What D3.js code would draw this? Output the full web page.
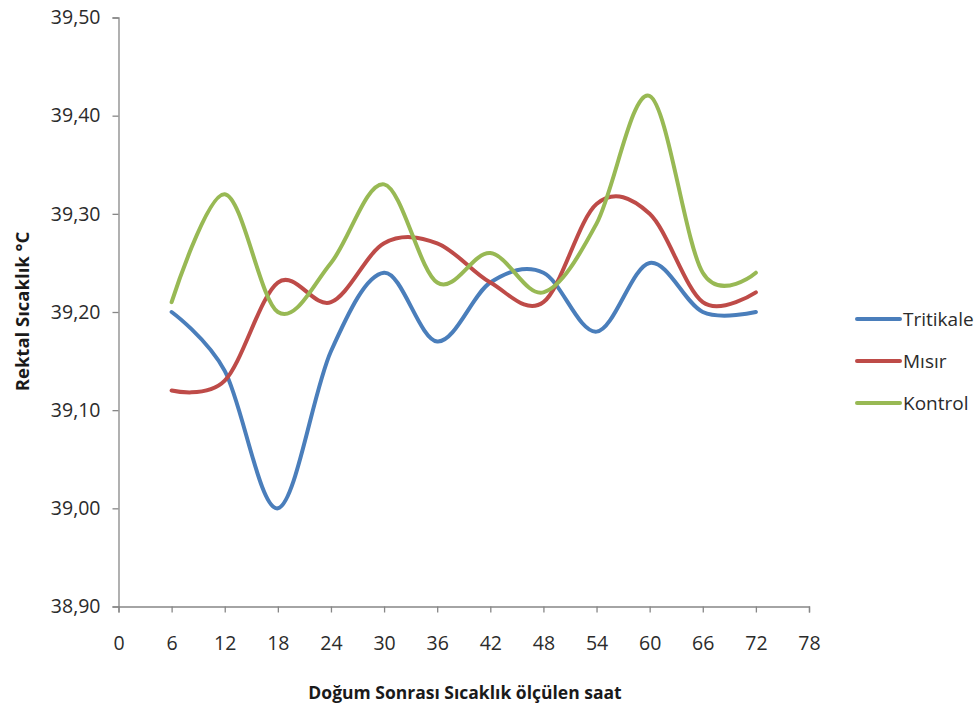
<!DOCTYPE html>
<html>
<head>
<meta charset="utf-8">
<script src="https://cdn.jsdelivr.net/npm/d3@7"></script>
<style>
  html, body { margin: 0; padding: 0; background: #fff; }
  svg { display: block; font-family: "Open Sans", sans-serif; }
</style>
</head>
<body>
<svg id="chart" width="978" height="707"></svg>
<script>
// Hours after birth at which rectal temperature was measured
const hours = [6, 12, 18, 24, 30, 36, 42, 48, 54, 60, 66, 72];

// Rectal temperature (°C) per group
const tritikale = [39.20, 39.14, 39.00, 39.16, 39.24, 39.17, 39.23, 39.24, 39.18, 39.25, 39.20, 39.20];
const misir     = [39.12, 39.13, 39.23, 39.21, 39.27, 39.27, 39.23, 39.21, 39.31, 39.30, 39.21, 39.22];
const kontrol   = [39.21, 39.32, 39.20, 39.25, 39.33, 39.23, 39.26, 39.22, 39.29, 39.42, 39.24, 39.24];

const seriesNames = ["Tritikale", "Mısır", "Kontrol"];
const seriesValues = [tritikale, misir, kontrol];
const seriesColors = ["#4a7ebb", "#be4b48", "#98b954"];

// Axis ticks
const xTicks = [0, 6, 12, 18, 24, 30, 36, 42, 48, 54, 60, 66, 72, 78];
const yTicks = [38.90, 39.00, 39.10, 39.20, 39.30, 39.40, 39.50];

const xTitle = "Doğum Sonrası Sıcaklık ölçülen saat";
const yTitle = "Rektal Sıcaklık °C";

const svg = d3.select("#chart");
const plot = { left: 118.5, right: 809, top: 17.5, bottom: 606.5 };

const x = d3.scaleLinear().domain([0, 78]).range([plot.left, plot.right]);
const y = d3.scaleLinear().domain([38.90, 39.50]).range([plot.bottom, plot.top]);

const fmt = v => v.toFixed(2).replace(".", ",");
const axisColor = "#878787";
const textColor = "#2b2b2b";

// Y axis
const yAxis = svg.append("g")
  .attr("transform", `translate(${plot.left},0)`)
  .call(d3.axisLeft(y).tickValues(yTicks).tickFormat(fmt).tickSize(6).tickPadding(12));
// X axis
const xAxis = svg.append("g")
  .attr("transform", `translate(0,${plot.bottom})`)
  .call(d3.axisBottom(x).tickValues(xTicks).tickFormat(d3.format("d")).tickSize(6).tickPadding(24));

[yAxis, xAxis].forEach(g => {
  g.select(".domain").attr("stroke", axisColor).attr("stroke-width", 1.3);
  g.selectAll(".tick line").attr("stroke", axisColor).attr("stroke-width", 1.3);
  g.selectAll(".tick text")
    .attr("fill", textColor)
    .style("font-family", "'Open Sans', sans-serif")
    .style("font-size", "19.5px");
});

// Smoothed series lines
const line = d3.line()
  .x((d, i) => x(hours[i]))
  .y(d => y(d))
  .curve(d3.curveCatmullRom.alpha(0));

svg.append("g").selectAll("path")
  .data(seriesValues)
  .join("path")
  .attr("d", d => line(d))
  .attr("fill", "none")
  .attr("stroke", (d, i) => seriesColors[i])
  .attr("stroke-width", 4)
  .attr("stroke-linecap", "round")
  .attr("stroke-linejoin", "round");

// Axis titles
svg.append("text")
  .attr("x", 465).attr("y", 699)
  .attr("text-anchor", "middle")
  .attr("fill", "#1a1a1a")
  .style("font-size", "17.5px").style("font-weight", "bold")
  .text(xTitle);

svg.append("text")
  .attr("transform", "translate(29,311.5) rotate(-90)")
  .attr("text-anchor", "middle")
  .attr("fill", "#1a1a1a")
  .style("font-size", "18.5px").style("font-weight", "bold")
  .text(yTitle);

// Legend
const legend = svg.append("g").selectAll("g")
  .data(seriesNames)
  .join("g")
  .attr("transform", (d, i) => `translate(857,${319 + i * 42})`);

legend.append("line")
  .attr("x1", 0).attr("x2", 43)
  .attr("stroke", (d, i) => seriesColors[i])
  .attr("stroke-width", 4)
  .attr("stroke-linecap", "round");

legend.append("text")
  .attr("x", 46).attr("dy", "0.35em")
  .attr("fill", textColor)
  .style("font-size", "19px")
  .text(d => d);
</script>
</body>
</html>
